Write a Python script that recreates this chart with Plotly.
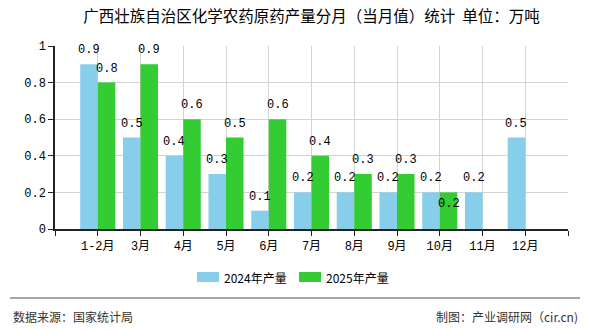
import plotly.graph_objects as go

categories = ["1-2月", "3月", "4月", "5月", "6月", "7月", "8月", "9月", "10月", "11月", "12月"]
values_2024 = [0.9, 0.5, 0.4, 0.3, 0.1, 0.2, 0.2, 0.2, 0.2, 0.2, 0.5]
values_2025 = [0.8, 0.9, 0.6, 0.5, 0.6, 0.4, 0.3, 0.3, 0.2, None, None]
series_names = ["2024年产量", "2025年产量"]
series_colors = ["#87CEEB", "#33CC33"]
y_ticks = [0, 0.2, 0.4, 0.6, 0.8, 1]

title_text = "广西壮族自治区化学农药原药产量分月（当月值）统计  单位：万吨"
source_text = "数据来源：国家统计局"
maker_text = "制图：产业调研网（cir.cn)"

mono = "Liberation Mono, Noto Sans CJK SC, monospace"
cjk = "Noto Sans CJK SC, sans-serif"

n = len(categories)
x_idx = list(range(n))
bargap = 0.18
bar_w = (1 - bargap) / 2

fig = go.Figure()
for k, vals in enumerate([values_2024, values_2025]):
    fig.add_trace(go.Bar(
        x=x_idx, y=vals, name=series_names[k],
        marker=dict(color=series_colors[k], line=dict(width=0)),
        showlegend=False,
    ))

# value labels
for k, vals in enumerate([values_2024, values_2025]):
    off = (k - 0.5) * bar_w
    for i, v in enumerate(vals):
        if v is None:
            continue
        inside = (k == 1 and i == 8)
        fig.add_annotation(
            x=i + off, y=v, xref="x", yref="y", text=f"{v:.1f}",
            showarrow=False, xanchor="center",
            yanchor="top" if inside else "bottom",
            yshift=-3 if inside else 5,
            font=dict(family=mono, size=12, color="#000"),
        )

fig.update_layout(
    width=590, height=330,
    margin=dict(l=55, r=22, t=46, b=101, autoexpand=False),
    paper_bgcolor="white", plot_bgcolor="white",
    barmode="group", bargap=bargap, bargroupgap=0,
    title=dict(text=title_text, x=0.5, xref="paper", xanchor="center",
               y=1 - 17 / 330, yref="container", yanchor="middle",
               font=dict(family=cjk, size=15.5, color="#000")),
    showlegend=False,
    xaxis=dict(
        range=[-1, n], tickmode="array",
        tickvals=list(range(-1, n + 1)),
        ticktext=[""] + categories + [""],
        showgrid=True, gridcolor="#d3d3d3", gridwidth=1,
        showline=True, linecolor="#222", linewidth=1.5,
        ticks="outside", ticklen=5, tickcolor="#222",
        zeroline=False, automargin=False,
        tickfont=dict(family=mono, size=12, color="#000"),
    ),
    yaxis=dict(
        range=[0, 1], tickmode="array", tickvals=y_ticks,
        ticktext=[("%g" % v) for v in y_ticks],
        showgrid=True, gridcolor="#d3d3d3", gridwidth=1,
        showline=True, linecolor="#222", linewidth=1.5,
        ticks="outside", ticklen=5, tickcolor="#222",
        zeroline=False, automargin=False,
        tickfont=dict(family=mono, size=12, color="#000"),
    ),
)

plot_w = 590 - 55 - 22
plot_h = 330 - 46 - 101
def px_x(p):
    return (p - 55) / plot_w
def px_y(p):
    return (229 - p) / plot_h

# custom legend
legend_swatch_x = [197, 299]
for k in range(2):
    sx = legend_swatch_x[k]
    fig.add_shape(type="rect", xref="paper", yref="paper",
                  x0=px_x(sx), x1=px_x(sx + 22), y0=px_y(272), y1=px_y(282),
                  fillcolor=series_colors[k], line=dict(width=0))
    fig.add_annotation(text=series_names[k], xref="paper", yref="paper",
                       x=px_x(sx + 25), y=px_y(277), xanchor="left", yanchor="middle",
                       showarrow=False, font=dict(family=cjk, size=12, color="#000"))

fig.add_shape(type="line", xref="paper", yref="paper",
              x0=px_x(10), x1=px_x(580), y0=px_y(298), y1=px_y(298),
              line=dict(color="#888", width=1.5))
fig.add_annotation(text=source_text, xref="paper", yref="paper",
                   x=px_x(11), y=px_y(316), xanchor="left", yanchor="middle",
                   showarrow=False, font=dict(family=cjk, size=12, color="#333"))
fig.add_annotation(text=maker_text, xref="paper", yref="paper",
                   x=px_x(580), y=px_y(316), xanchor="right", yanchor="middle",
                   showarrow=False, font=dict(family=cjk, size=12, color="#333"))

fig.write_html("out.html")
